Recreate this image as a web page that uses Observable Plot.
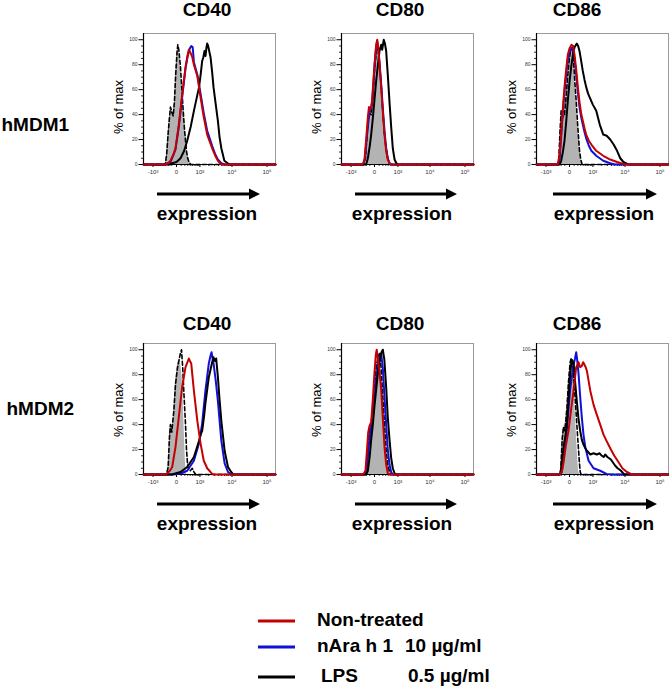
<!DOCTYPE html>
<html><head><meta charset="utf-8">
<script src="https://cdn.jsdelivr.net/npm/d3@7"></script>
<script src="https://cdn.jsdelivr.net/npm/@observablehq/plot@0.6"></script>
<style>
body{margin:0;background:#fff;}
#chart{position:relative;width:669px;height:686px;overflow:hidden;font-family:"Liberation Sans",Arial,sans-serif;background:#fff;}
#chart svg.panel{position:absolute;}
#overlay{position:absolute;left:0;top:0;}
</style></head><body><div id="chart"></div>
<script>
// ---------- data ----------
const markers = ["CD40", "CD80", "CD86"];
const donors = ["hMDM1", "hMDM2"];
const treatments = ["Non-treated", "nAra h 1", "LPS"];
const doses = ["", "10 µg/ml", "0.5 µg/ml"];
const yLabel = "% of max";
const xLabel = "expression";

const xDomain = [-2100, 174000];
const yDomain = [0, 105];
const xTickValues = [-1000, 0, 1000, 10000, 100000];
const xTickLabels = ["-10³", "0", "10³", "10⁴", "10⁵"];
const xMinorTicks = [-2000, -900, -800, -700, -600, -500, -400, -300, -200, -100, 100, 200, 300, 400, 500, 600, 700, 800, 900, 2000, 3000, 4000, 5000, 6000, 7000, 8000, 9000, 20000, 30000, 40000, 50000, 60000, 70000, 80000, 90000];
const yTickValues = [0, 20, 40, 60, 80, 100];
const yMinorTicks = [5, 10, 15, 25, 30, 35, 45, 50, 55, 65, 70, 75, 85, 90, 95];

// [expression, % of max]
const cd40_1_iso = [[-2100,0],[-300,0],[-250,8],[-200,25],[-160,38],[-133,46],[-100,42],[-67,39],[-40,50],[-15,72],[10,90],[25,96],[45,92],[83,78],[120,58],[152,43],[190,28],[222,19],[260,10],[298,5],[350,2],[420,0],[174000,0]];
const cd40_1_nt = [[-2100,0],[-300,0],[-200,1],[-133,3],[-60,8],[-19,13],[45,32],[124,56],[222,78],[298,88],[341,92],[400,90],[500,86],[585,80],[700,75],[800,71],[1050,54],[1362,38],[1770,24],[2551,13],[3200,7],[3830,3],[4860,0],[174000,0]];
const cd40_1_ara = [[-2100,0],[-300,0],[-133,2],[-19,12],[45,30],[124,54],[222,77],[298,87],[380,93],[450,95],[520,94],[585,82],[800,72],[1050,57],[1362,41],[1770,27],[2551,15],[3200,8],[3830,4],[4860,1],[6000,0],[174000,0]];
const cd40_1_lps = [[-2100,0],[-150,0],[-90,1],[0,2],[83,5],[180,11],[280,19],[420,30],[585,43],[750,53],[928,62],[1060,72],[1200,83],[1320,86],[1440,91],[1560,87],[1680,94],[1770,97],[1900,95],[2268,86],[2550,74],[2814,62],[3300,48],[3830,35],[4300,22],[4860,13],[5980,3],[8400,0],[174000,0]];

const cd80_1_iso = [[-2100,0],[-300,0],[-222,5],[-170,25],[-130,38],[-100,41],[-67,40],[-32,55],[0,75],[40,92],[60,97],[90,88],[120,75],[152,64],[200,42],[255,24],[320,12],[382,5],[460,1],[546,0],[174000,0]];
const cd80_1_nt = [[-2100,0],[-320,0],[-255,4],[-200,20],[-150,38],[-120,46],[-90,44],[-60,46],[-32,60],[0,80],[30,95],[55,100],[80,92],[107,80],[152,62],[200,42],[255,24],[316,11],[382,4],[460,1],[546,0],[174000,0]];
const cd80_1_ara = [[-2100,0],[-300,0],[-240,5],[-180,22],[-130,36],[-100,42],[-67,46],[-40,52],[0,78],[30,94],[50,99],[80,93],[107,82],[152,64],[200,45],[255,27],[316,13],[382,5],[460,1],[546,0],[174000,0]];
const cd80_1_lps = [[-2100,0],[-200,0],[-150,5],[-100,15],[-67,24],[-32,37],[0,52],[32,67],[70,80],[107,91],[152,96],[180,92],[230,100],[270,97],[316,91],[382,72],[460,50],[546,30],[636,13],[749,4],[876,1],[1000,0],[174000,0]];

const cd86_1_iso = [[-2100,0],[-320,0],[-280,3],[-240,25],[-200,43],[-150,38],[-107,40],[-67,55],[-32,72],[0,86],[32,93],[60,94],[90,80],[120,64],[152,51],[200,30],[255,11],[300,4],[357,0],[174000,0]];
const cd86_1_nt = [[-2100,0],[-320,0],[-250,8],[-200,25],[-150,45],[-107,62],[-67,76],[-32,88],[0,93],[40,96],[75,95],[107,88],[152,76],[200,62],[255,50],[316,41],[382,35],[460,29],[546,24],[700,19],[876,16],[1306,11],[2220,7],[3650,4],[5860,2],[8990,0.5],[12400,0],[174000,0]];
const cd86_1_ara = [[-2100,0],[-300,0],[-250,5],[-200,22],[-150,42],[-107,58],[-67,72],[-32,84],[0,90],[40,93],[75,91],[107,85],[152,72],[200,58],[255,46],[316,38],[382,32],[460,26],[546,21],[700,15],[876,11],[1306,7],[2220,3],[3650,1],[5000,0],[174000,0]];
const cd86_1_lps = [[-2100,0],[-250,0],[-200,3],[-150,10],[-107,19],[-67,34],[-32,51],[0,66],[32,78],[70,88],[107,94],[169,97],[210,95],[255,91],[316,83],[382,75],[460,68],[546,62],[650,57],[749,54],[989,48],[1306,43],[1713,32],[2220,24],[2850,23],[3650,20],[4630,16],[5860,11],[7290,5],[8990,2],[12400,0],[174000,0]];

const cd40_2_iso = [[-2100,0],[-250,0],[-200,8],[-160,35],[-133,41],[-110,36],[-90,32],[-50,55],[-19,75],[20,88],[52,93],[90,88],[124,78],[150,60],[169,45],[200,22],[222,8],[255,0],[174000,0]];
const cd40_2_dash = [[-2100,0],[-250,0],[-200,6],[-160,30],[-133,40],[-100,34],[-50,52],[-19,72],[20,86],[52,92],[80,97],[107,100],[140,85],[169,67],[222,40],[255,20],[300,6],[400,3],[500,5],[585,2],[700,0],[174000,0]];
const cd40_2_nt = [[-2100,0],[-260,0],[-234,1],[-150,3],[-90,6],[-19,22],[45,46],[124,70],[222,86],[290,90],[341,93],[390,91],[447,89],[500,80],[585,67],[800,43],[1050,25],[1362,11],[1770,5],[2551,0.5],[3000,0],[174000,0]];
const cd40_2_ara = [[-2100,0],[-50,0],[100,1],[280,3],[585,11],[928,25],[1200,41],[1547,67],[1998,89],[2250,95],[2438,98],[2600,94],[2814,89],[3300,75],[3830,59],[4860,27],[6090,9],[7640,2],[9470,0],[174000,0]];
const cd40_2_lps = [[-2100,0],[-100,0],[83,2],[280,6],[585,14],[928,27],[1100,33],[1200,35],[1400,47],[1547,57],[1998,78],[2551,90],[2814,94],[3100,91],[3400,93],[3830,78],[4300,60],[4860,43],[6090,19],[7640,6],[9470,2],[10900,0],[174000,0]];

const cd80_2_iso = [[-2100,0],[-250,0],[-180,5],[-130,30],[-100,39],[-67,40],[-32,55],[0,72],[40,88],[80,95],[107,97],[152,85],[200,62],[255,40],[316,20],[382,8],[460,2],[546,0],[174000,0]];
const cd80_2_nt = [[-2100,0],[-300,0],[-222,3],[-180,18],[-140,34],[-107,39],[-67,42],[-32,60],[0,82],[25,96],[43,100],[70,92],[107,82],[152,68],[200,45],[255,22],[316,8],[382,1],[460,0],[174000,0]];
const cd80_2_ara = [[-2100,0],[-250,0],[-180,5],[-120,25],[-67,38],[-32,45],[0,62],[43,80],[80,90],[120,95],[152,97],[200,85],[255,62],[316,40],[382,20],[460,8],[546,2],[636,0],[174000,0]];
const cd80_2_lps = [[-2100,0],[-200,0],[-150,3],[-100,15],[-67,28],[-32,40],[0,55],[43,72],[80,85],[120,93],[160,98],[200,100],[250,92],[316,70],[382,46],[460,28],[546,13],[636,5],[749,1],[876,0],[174000,0]];

const cd86_2_iso = [[-2100,0],[-250,0],[-212,5],[-170,30],[-133,40],[-100,36],[-52,55],[-19,75],[12,88],[45,93],[83,80],[120,55],[152,35],[190,15],[222,3],[260,0],[174000,0]];
const cd86_2_dash = [[-2100,0],[-250,0],[-212,4],[-170,28],[-133,38],[-100,35],[-52,52],[-19,74],[12,90],[32,93],[60,88],[100,72],[152,48],[200,28],[250,10],[280,2],[320,0],[174000,0]];
const cd86_2_nt = [[-2100,0],[-250,0],[-180,2],[-130,10],[-80,22],[-19,35],[30,52],[83,67],[152,86],[190,88],[222,90],[280,86],[341,87],[400,90],[460,88],[520,86],[585,83],[700,74],[800,67],[1050,56],[1362,48],[1770,40],[2268,32],[2814,27],[3830,20],[4860,15],[6090,11],[8400,5],[11360,2],[15800,0],[174000,0]];
const cd86_2_ara = [[-2100,0],[-250,0],[-180,2],[-133,15],[-90,26],[-52,36],[-19,52],[12,68],[45,78],[83,88],[120,93],[152,98],[180,92],[222,81],[280,62],[341,46],[413,32],[497,22],[685,11],[1050,5],[1770,3],[2814,0.5],[3830,0],[174000,0]];
const cd86_2_lps = [[-2100,0],[-250,0],[-212,2],[-170,12],[-133,22],[-90,30],[-52,40],[-19,60],[12,81],[45,92],[83,90],[120,75],[169,59],[220,45],[280,35],[341,28],[413,24],[500,21],[585,19],[800,16],[1050,17],[1362,16],[1700,17],[1998,15],[2300,14],[2551,16],[3000,14],[3830,12],[5180,7],[6090,5],[7640,3],[9470,0],[174000,0]];

// ---------- styles / layout ----------
const colors = ["#c40000", "#1010d8", "#000000"];
const isoFill = "#b3b3b3";
const colLeft = [143, 341, 536];
const rowTop = [33, 343];
const frameW = 132, frameH = 131;
const mL = 40, mR = 1, mT = 4, mB = 18;
const titleX = [207, 400, 577];
const titleBase = [16, 330];
const arrowX1 = [157, 355, 553], arrowX2 = [260, 457, 657];
const exprX = [207, 402, 604];
const yLabCy = [107, 410];
const rowLabX = [1.5, 6.5], rowLabBase = [131, 415];

const panels = [
  {m: 0, r: 0, iso: cd40_1_iso, dash: cd40_1_iso, nt: cd40_1_nt, ara: cd40_1_ara, lps: cd40_1_lps},
  {m: 1, r: 0, iso: cd80_1_iso, dash: cd80_1_iso, nt: cd80_1_nt, ara: cd80_1_ara, lps: cd80_1_lps},
  {m: 2, r: 0, iso: cd86_1_iso, dash: cd86_1_iso, nt: cd86_1_nt, ara: cd86_1_ara, lps: cd86_1_lps},
  {m: 0, r: 1, iso: cd40_2_iso, dash: cd40_2_dash, nt: cd40_2_nt, ara: cd40_2_ara, lps: cd40_2_lps},
  {m: 1, r: 1, iso: cd80_2_iso, dash: cd80_2_iso, nt: cd80_2_nt, ara: cd80_2_ara, lps: cd80_2_lps},
  {m: 2, r: 1, iso: cd86_2_iso, dash: cd86_2_dash, nt: cd86_2_nt, ara: cd86_2_ara, lps: cd86_2_lps}
];

const chart = document.getElementById("chart");
const X = d => d[0], Y = d => d[1];

for (const p of panels) {
  const svg = Plot.plot({
    width: mL + frameW + mR, height: mT + frameH + mB,
    marginLeft: mL, marginRight: mR, marginTop: mT, marginBottom: mB,
    style: {background: "transparent", overflow: "visible", fontFamily: "Liberation Sans, Arial, sans-serif"},
    x: {type: "symlog", constant: 278, domain: xDomain},
    y: {domain: yDomain},
    marks: [
      Plot.frame({stroke: "#9a9a9a", strokeWidth: 1}),
      Plot.ruleY([yDomain[0]], {stroke: "#000", strokeWidth: 1.2}),
      Plot.ruleX([xDomain[0]], {stroke: "#000", strokeWidth: 1.2}),
      Plot.axisX({ticks: xMinorTicks, tickSize: 2, tickFormat: () => "", label: null, strokeWidth: 0.8}),
      Plot.axisX({ticks: xTickValues, tickSize: 3, tickPadding: 2, fontSize: 6, fill: "#333",
        tickFormat: v => xTickLabels[xTickValues.indexOf(v)], label: null}),
      Plot.axisY({ticks: yMinorTicks, tickSize: 2, tickFormat: () => "", label: null, strokeWidth: 0.8}),
      Plot.axisY({ticks: yTickValues, tickSize: 4.5, tickPadding: 1.5, fontSize: 5, fill: "#333", label: null}),
      Plot.areaY(p.iso, {x: X, y: Y, fill: isoFill}),
      Plot.lineY(p.dash, {x: X, y: Y, stroke: "#000", strokeWidth: 1.6, strokeDasharray: "4,2.5"}),
      Plot.lineY(p.ara, {x: X, y: Y, stroke: colors[1], strokeWidth: 2}),
      Plot.lineY(p.lps, {x: X, y: Y, stroke: colors[2], strokeWidth: 2}),
      Plot.lineY(p.nt, {x: X, y: Y, stroke: colors[0], strokeWidth: 2})
    ]
  });
  svg.classList.add("panel");
  svg.style.left = (colLeft[p.m] - mL) + "px";
  svg.style.top = (rowTop[p.r] - mT) + "px";
  chart.appendChild(svg);
}

// ---------- overlay: titles, labels, arrows, legend ----------
const ov = d3.select(chart).append("svg").attr("id", "overlay")
  .attr("width", 669).attr("height", 686)
  .style("font-family", "'Liberation Sans', Arial, sans-serif");

donors.forEach((dn, r) => {
  ov.append("text").attr("x", rowLabX[r]).attr("y", rowLabBase[r])
    .attr("font-size", 19).attr("font-weight", "bold").text(dn);
  markers.forEach((mk, m) => {
    const T = rowTop[r], L = colLeft[m];
    ov.append("text").attr("x", titleX[m]).attr("y", titleBase[r]).attr("text-anchor", "middle")
      .attr("font-size", 19).attr("font-weight", "bold").text(mk);
    ov.append("text").attr("transform", `translate(${L - 24.5 + 4.4},${yLabCy[r]}) rotate(-90)`)
      .attr("text-anchor", "middle").attr("font-size", 13).text(yLabel);
    const ay = T + 161, x1 = arrowX1[m], x2 = arrowX2[m];
    ov.append("path").attr("d", `M${x1},${ay - 1.5}H${x2 - 11}V${ay - 5.5}L${x2},${ay}L${x2 - 11},${ay + 5.5}V${ay + 1.5}H${x1}Z`).attr("fill", "#000");
    ov.append("text").attr("x", exprX[m]).attr("y", T + 187).attr("text-anchor", "middle")
      .attr("font-size", 19).attr("font-weight", "bold").text(xLabel);
  });
});

const legY = [621, 647, 677];
const legTextX = [317, 317, 321];
const legDoseX = [0, 405, 408];
treatments.forEach((t, i) => {
  ov.append("line").attr("x1", 258).attr("x2", 295).attr("y1", legY[i]).attr("y2", legY[i])
    .attr("stroke", colors[i]).attr("stroke-width", 3);
  ov.append("text").attr("x", legTextX[i]).attr("y", legY[i] + 4.5).attr("font-size", 19)
    .attr("font-weight", "bold").text(t);
  if (doses[i]) ov.append("text").attr("x", legDoseX[i]).attr("y", legY[i] + 4.5).attr("font-size", 19)
    .attr("font-weight", "bold").text(doses[i]);
});
</script></body></html>
